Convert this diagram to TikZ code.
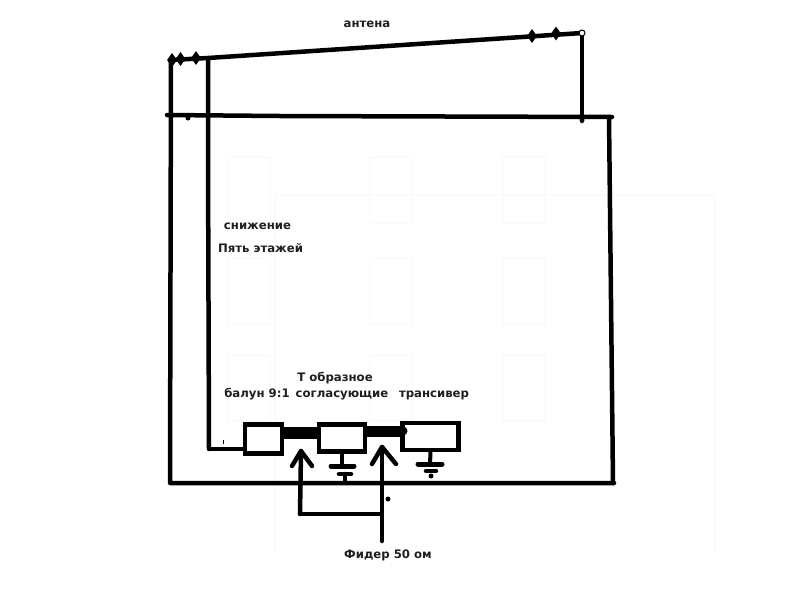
\documentclass[tikz,border=0pt]{standalone}
\usepackage{fontspec}
\setmainfont{DejaVu Sans}
\usetikzlibrary{shapes.geometric}
\begin{document}
\begin{tikzpicture}[x=1pt,y=-1pt,
  wire/.style={line width=4.5pt,black,line cap=round,line join=round},
  thickwire/.style={line width=#1,black},
  thinwire/.style={line width=4pt,black,line cap=round},
  unit/.style={draw=black,line width=4.5pt,fill=white,inner sep=0pt},
  lump/.style={diamond,fill=black,inner sep=0pt,minimum width=10pt,minimum height=14pt},
  blob/.style={circle,fill=black,inner sep=0pt,minimum size=#1},
  blob/.default=5pt,
  lab/.style={font=\bfseries\fontsize{11.7}{13}\selectfont,text=black!88,inner sep=0pt},
  ghost/.style={draw=black!1.5,line width=2pt}]
\useasboundingbox (0,0) rectangle (800,600);
\fill[white] (0,0) rectangle (800,600);
% faint traces of the building underneath
\foreach \cx in {249,391,524}{
  \foreach \cy in {190,291,388}{
    \draw[ghost] (\cx-21,\cy-33) rectangle (\cx+21,\cy+33);
  }
}
\draw[ghost] (275,555) -- (275,195) -- (715,195) -- (715,555);

% junction coordinates
\coordinate (antL) at (171,60);
\coordinate (antJ) at (208,58);
\coordinate (antR) at (582,33);
\coordinate (roofL) at (167,115);
\coordinate (roofM) at (280,116);
\coordinate (roofR) at (612,117);
\coordinate (floorL) at (170,483);
\coordinate (floorR) at (614,483);
\coordinate (wallRt) at (609,117);
\coordinate (wallRb) at (613,483);
\coordinate (bend) at (209,449);
\coordinate (feedEnd) at (382,541);
\coordinate (feedJ) at (382,514);
\coordinate (feedL) at (300,514);
\coordinate (tipL) at (301,451);
\coordinate (tipR) at (382,447);
\coordinate (armLa) at (292,466);
\coordinate (armLb) at (312,466);
\coordinate (armRa) at (372,464);
\coordinate (armRb) at (396,464);
\coordinate (y1) at (300,432.5);
\coordinate (y2) at (385,431.5);
\coordinate (gndM) at (343,466);
\coordinate (gndM2) at (345,474);
\coordinate (gndT) at (430,464);

% antenna
\draw[wire] (antL) -- (antJ) -- (antR);
% building
\draw[wire] (roofL) -- (roofM) -- (roofR);
\draw[wire] (antL) -- (floorL) -- (floorR);
\draw[wire] (wallRt) -- (wallRb);
\draw[wire] (antR) -- (582,121);
% feed line
\draw[wire] (antJ) -- (208,155) -- (bend);
\draw[wire,line width=3.5pt] (bend) -- (245,449);

% units
\node[unit,minimum width=37pt,minimum height=29pt] (balun) at (263.5,439) {};
\node[unit,minimum width=46pt,minimum height=27pt] (match) at (342,438) {};
\node[unit,minimum width=56pt,minimum height=27pt] (trx) at (430.5,436.5) {};
\draw[thickwire=12pt] (balun.east|-y1) -- (match.west|-y1);
\draw[thickwire=11pt] (match.east|-y2) -- (trx.west|-y2);
\node[blob=9pt] (bulge) at (403,431) {};

% grounds
\draw[thinwire] (match.south|-gndM) -- (match.south);
\draw[wire,line width=5pt] (331,466) -- (gndM) -- (354,466);
\draw[wire] (339,474) -- (351,474);
\draw[wire] (gndM2) -- (345,482);
\draw[thinwire] (trx.south) -- (gndT);
\draw[wire,line width=5pt] (418,464) -- (gndT) -- (442,464);
\draw[wire] (426,471) -- (436,471);
\node[blob=5pt] (gdot) at (431,476) {};

% 50 ohm feeder
\draw[wire] (feedEnd) -- (feedJ) -- (feedL);
\draw[wire] (feedJ) -- (tipR);
\draw[wire] (feedL) -- (tipL);
\draw[wire] (armLa) -- (tipL) -- (armLb);
\draw[wire] (armRa) -- (tipR) -- (armRb);

% small marks
\node[lump] (l1) at (172,60) {};
\node[lump] (l2) at (180.5,59) {};
\node[lump] (l3) at (196,58) {};
\node[lump] (l4) at (532,36) {};
\node[lump] (l5) at (556,33.5) {};
\node[circle,draw=black,fill=white,line width=1pt,minimum size=6pt,inner sep=0pt] (ins) at (582,33) {};
\node[blob=5pt] (d1) at (188,118) {};
\node[blob=5pt] (d2) at (582,120) {};
\node[blob=5pt] (d3) at (388,499) {};
\draw[black,line width=0.7pt] (223,440) -- (223,444);

% labels
\node[lab] (t1) at (367,24) {антена};
\node[lab] (t2) at (257.5,226.5) {снижение};
\node[lab] (t3) at (260.5,248.5) {Пять этажей};
\node[lab] (t4) at (257,394) {балун 9:1};
\node[lab] (t5) at (335,378) {Т образное};
\node[lab] (t6) at (342,395) {согласующие};
\node[lab] (t7) at (434,395.5) {трансивер};
\node[lab] (t8) at (388,555) {Фидер 50 ом};
\end{tikzpicture}
\end{document}
